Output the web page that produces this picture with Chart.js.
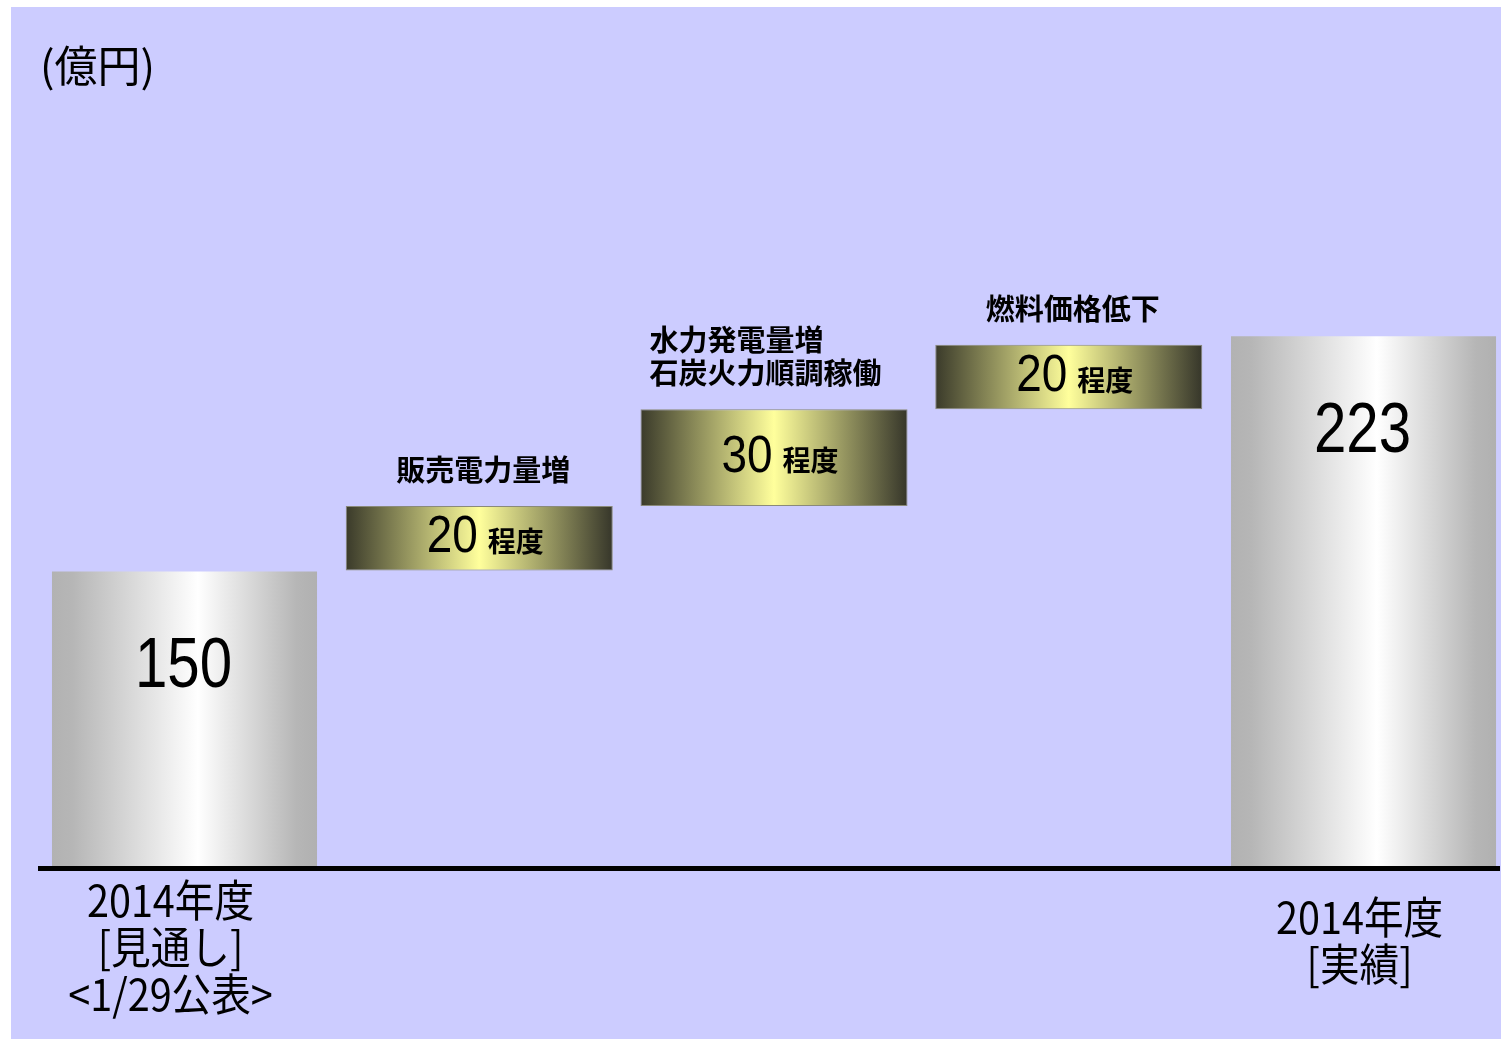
<!DOCTYPE html>
<html><head><meta charset="utf-8">
<script src="https://cdn.jsdelivr.net/npm/chart.js@4"></script>
<style>html,body{margin:0;padding:0;background:#fff;overflow:hidden}#wrap{width:1501px;height:1039px;position:relative}</style>
</head><body><div id="wrap"><canvas id="c"></canvas></div>
<script>
const categories = ['2014年度\n[見通し]\n<1/29公表>', '販売電力量増', '水力発電量増\n石炭火力順調稼働', '燃料価格低下', '2014年度\n[実績]'];
const amounts = [150, 20, 30, 20, 223];
const barKinds = ['total', 'delta', 'delta', 'delta', 'total'];
const valueTexts = ['150', '20', '30', '20', '223'];
const valueSuffixes = ['', '程度', '程度', '程度', ''];
const unitLabel = '(億円)';
const axisMin = 58;
const axisMax = 306.5;

let run = 0;
const ranges = amounts.map((v, i) => {
  if (barKinds[i] === 'total') { run = v; return [axisMin, v]; }
  const s = run; run += v; return [s, run];
});
const points = ranges.map((r, i) => ({ x: i, y: r }));

const NUMF = '"Liberation Sans", Arial, sans-serif';
const JPF = '"Noto Sans CJK JP", sans-serif';
const BAR_RATIO = 0.906;

function barGradient(ctx) {
  const chart = ctx.chart;
  const xs = chart.scales.x;
  if (ctx.type !== 'data' || !xs || !chart.chartArea) return '#cccccc';
  const i = ctx.dataIndex;
  const cx = xs.getPixelForValue(i);
  const w = (xs.getPixelForValue(1) - xs.getPixelForValue(0)) * BAR_RATIO;
  const g = chart.ctx.createLinearGradient(cx - w / 2, 0, cx + w / 2, 0);
  if (barKinds[i] === 'total') {
    g.addColorStop(0, '#b2b2b2');
    g.addColorStop(0.08, '#b6b6b6');
    g.addColorStop(0.55, '#ffffff');
    g.addColorStop(0.92, '#b6b6b6');
    g.addColorStop(1, '#b0b0b0');
  } else {
    g.addColorStop(0, '#3a3a2a');
    g.addColorStop(0.5, '#ffff9c');
    g.addColorStop(1, '#36362a');
  }
  return g;
}

function squeezeText(c, text, x, y, sx) {
  c.save();
  c.translate(x, y);
  c.scale(sx, 1);
  c.fillText(text, 0, 0);
  c.restore();
}

const bgPlugin = {
  id: 'bg',
  beforeDraw(chart) {
    const c = chart.ctx;
    c.save();
    c.fillStyle = '#ffffff';
    c.fillRect(0, 0, chart.width, chart.height);
    c.fillStyle = '#ccccff';
    c.fillRect(11, 7, chart.width - 11, chart.height - 7);
    c.fillStyle = '#000';
    c.font = '43px ' + JPF;
    c.textBaseline = 'middle';
    c.textAlign = 'left';
    c.fillText(unitLabel, 40, 66);
    c.restore();
  }
};

const labelPlugin = {
  id: 'labels',
  afterDatasetsDraw(chart) {
    const c = chart.ctx;
    const meta = chart.getDatasetMeta(0);
    const area = chart.chartArea;
    c.save();
    c.fillStyle = '#000';
    c.fillRect(38, area.bottom - 1, area.right - 38, 5);
    meta.data.forEach((el, i) => {
      const top = Math.min(el.y, el.base);
      c.fillStyle = '#000';
      c.textBaseline = 'middle';
      if (barKinds[i] === 'total') {
        c.font = '71px ' + NUMF;
        c.textAlign = 'center';
        squeezeText(c, valueTexts[i], el.x - 1, top + 97, 0.82);
        const lines = categories[i].split('\n');
        c.font = '44px ' + JPF;
        const lh = 47;
        const cy = i === 0 ? 947 : 941;
        const dx = i === 0 ? -14 : -4;
        lines.forEach((ln, k) => {
          squeezeText(c, ln, el.x + dx, cy + (k - (lines.length - 1) / 2) * lh, 0.9);
        });
      } else {
        const sx = 0.9;
        c.font = '51px ' + NUMF;
        const nw = c.measureText(valueTexts[i]).width * sx;
        c.font = 'bold 28px ' + JPF;
        const sw = c.measureText(valueSuffixes[i]).width;
        const gap = 10;
        const total = nw + gap + sw;
        const cy = (el.y + el.base) / 2;
        const x0 = el.x + 6 - total / 2;
        c.textAlign = 'left';
        c.font = '51px ' + NUMF;
        squeezeText(c, valueTexts[i], x0, cy, sx);
        c.font = 'bold 28px ' + JPF;
        c.fillText(valueSuffixes[i], x0 + nw + gap, cy + 3);
        const lines = categories[i].split('\n');
        c.font = 'bold 29px ' + JPF;
        const lh = 33;
        const multi = lines.length > 1;
        c.textAlign = multi ? 'left' : 'center';
        lines.forEach((ln, k) => {
          const y = top - 36 - (lines.length - 1 - k) * lh;
          const x = multi ? el.x - el.width / 2 + 9 : el.x + 4;
          c.fillText(ln, x, y);
        });
      }
    });
    c.restore();
  }
};

new Chart(document.getElementById('c'), {
  type: 'bar',
  data: {
    datasets: [{
      data: points,
      backgroundColor: barGradient,
      borderColor: (ctx) => (ctx.type === 'data' && barKinds[ctx.dataIndex] === 'delta') ? '#8a8a7a' : 'rgba(0,0,0,0)',
      borderWidth: 1,
      borderSkipped: false,
      categoryPercentage: 1,
      barPercentage: BAR_RATIO
    }]
  },
  options: {
    responsive: true,
    maintainAspectRatio: false,
    animation: false,
    layout: { padding: { left: 38, right: 1, top: 66, bottom: 172 } },
    plugins: { legend: { display: false }, tooltip: { enabled: false } },
    scales: {
      x: {
        type: 'linear', display: false, offset: false, min: -0.497, max: 4.463,
        grid: { offset: false },
        afterBuildTicks: (s) => { s.ticks = categories.map((_, i) => ({ value: i })); }
      },
      y: { display: false, min: axisMin, max: axisMax }
    }
  },
  plugins: [bgPlugin, labelPlugin]
});
</script>
</body></html>
